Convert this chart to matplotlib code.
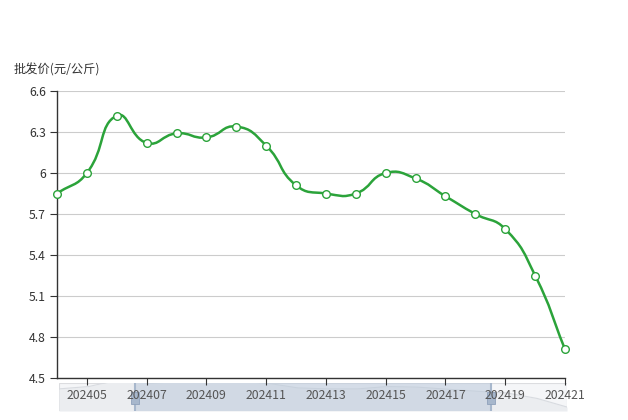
import matplotlib
matplotlib.use("Agg")
import matplotlib.pyplot as plt
from matplotlib.path import Path
from matplotlib.patches import PathPatch, Rectangle
import numpy as np

plt.rcParams['font.family'] = ['Noto Sans CJK SC', 'DejaVu Sans']

periods = ['202404', '202405', '202406', '202407', '202408', '202409',
           '202410', '202411', '202412', '202413', '202414', '202415',
           '202416', '202417', '202418', '202419', '202420', '202421']
prices = [5.85, 6.0, 6.42, 6.22, 6.29, 6.26, 6.34, 6.2, 5.91,
          5.85, 5.85, 6.0, 5.96, 5.83, 5.7, 5.59, 5.25, 4.71]
y_ticks = [4.5, 4.8, 5.1, 5.4, 5.7, 6.0, 6.3, 6.6]
y_labels = ['4.5', '4.8', '5.1', '5.4', '5.7', '6', '6.3', '6.6']

GREEN = '#2ba33a'
W, H = 628, 420


def smooth_path(xs, ys, sx, sy, smooth=0.5):
    # echarts-like bezier smoothing, computed in pixel-ish space
    px = np.asarray(xs) * sx
    py = np.asarray(ys) * sy
    n = len(px)
    cps = []
    for i in range(n):
        prev = i - 1 if i > 0 else i
        nxt = i + 1 if i < n - 1 else i
        vx, vy = px[nxt] - px[prev], py[nxt] - py[prev]
        d0 = np.hypot(px[i] - px[prev], py[i] - py[prev])
        d1 = np.hypot(px[nxt] - px[i], py[nxt] - py[i])
        s = d0 + d1
        if s > 0:
            d0, d1 = d0 / s, d1 / s
        cps.append(((px[i] - vx * smooth * d0, py[i] - vy * smooth * d0),
                    (px[i] + vx * smooth * d1, py[i] + vy * smooth * d1)))
    verts = [(px[0], py[0])]
    codes = [Path.MOVETO]
    for i in range(n - 1):
        verts += [cps[i][1], cps[i + 1][0], (px[i + 1], py[i + 1])]
        codes += [Path.CURVE4] * 3
    verts = [(vx_ / sx, vy_ / sy) for vx_, vy_ in verts]
    return Path(verts, codes)


fig = plt.figure(figsize=(W / 100, H / 100), dpi=100)

# data zoom slider (behind)
sl = fig.add_axes([59 / W, 1 - 411 / H, (567 - 59) / W, 28 / H])
ylo, yhi = 4.46, 6.22
sl.set_xlim(0, len(periods) - 1)
sl.set_ylim(ylo, yhi)
sl.axis('off')
sl.add_patch(Rectangle((0, ylo), len(periods) - 1, yhi - ylo, facecolor='#f5f6f8',
                       edgecolor='#dcdde0', lw=0.8, zorder=0))
xi = np.arange(len(periods))
sl.fill_between(xi, ylo, prices, color='#ebedf0', lw=0, zorder=1)
sl.plot(xi, prices, color='#d8dbe0', lw=0.8, zorder=1)
x0 = (135 - 59) / (567 - 59) * (len(periods) - 1)
x1 = (491 - 59) / (567 - 59) * (len(periods) - 1)
sl.add_patch(Rectangle((x0, ylo), x1 - x0, yhi - ylo, facecolor='#bccadb',
                       alpha=0.55, lw=0, zorder=2))
for xh in (x0, x1):
    sl.plot([xh, xh], [ylo, yhi], color='#a7b7cc', lw=1.5, zorder=3)
    sl.add_patch(Rectangle((xh - 0.13, ylo + 0.45), 0.26, 0.75, facecolor='#a7b7cc',
                           edgecolor='#8fa1bb', lw=0.6, zorder=4))

ax = fig.add_axes([57 / W, 1 - 378 / H, (565 - 57) / W, (378 - 91) / H])
ax.patch.set_alpha(0)
ax.set_xlim(0, len(periods) - 1)
ax.set_ylim(4.5, 6.6)

sx = (565 - 57) / (len(periods) - 1)
sy = (378 - 91) / 2.1
path = smooth_path(xi, prices, sx, sy)
ax.add_patch(PathPatch(path, facecolor='none', edgecolor=GREEN, lw=1.8, zorder=3))
ax.plot(xi, prices, 'o', ms=5.5, mfc='white', mec=GREEN, mew=1.0, zorder=4,
        clip_on=False)

ax.set_yticks(y_ticks)
ax.set_yticklabels(y_labels)
ax.yaxis.grid(True, color='#cccccc', lw=0.8)
ax.set_axisbelow(True)
ax.set_xticks(xi[1::2])
ax.set_xticklabels(periods[1::2])
for s in ('top', 'right'):
    ax.spines[s].set_visible(False)
for s in ('left', 'bottom'):
    ax.spines[s].set_color('#333333')
    ax.spines[s].set_linewidth(1)
ax.tick_params(axis='y', colors='#333333', labelcolor='#333333', length=5,
               labelsize=8.8, pad=3)
ax.tick_params(axis='x', colors='#333333', labelcolor='#555555', length=5,
               labelsize=8.8, pad=3)

fig.text(14 / W, 1 - 70 / H, '批发价(元/公斤)', fontsize=8.8, color='#333333',
         va='center', ha='left')

fig.savefig('out.png', dpi=100)
